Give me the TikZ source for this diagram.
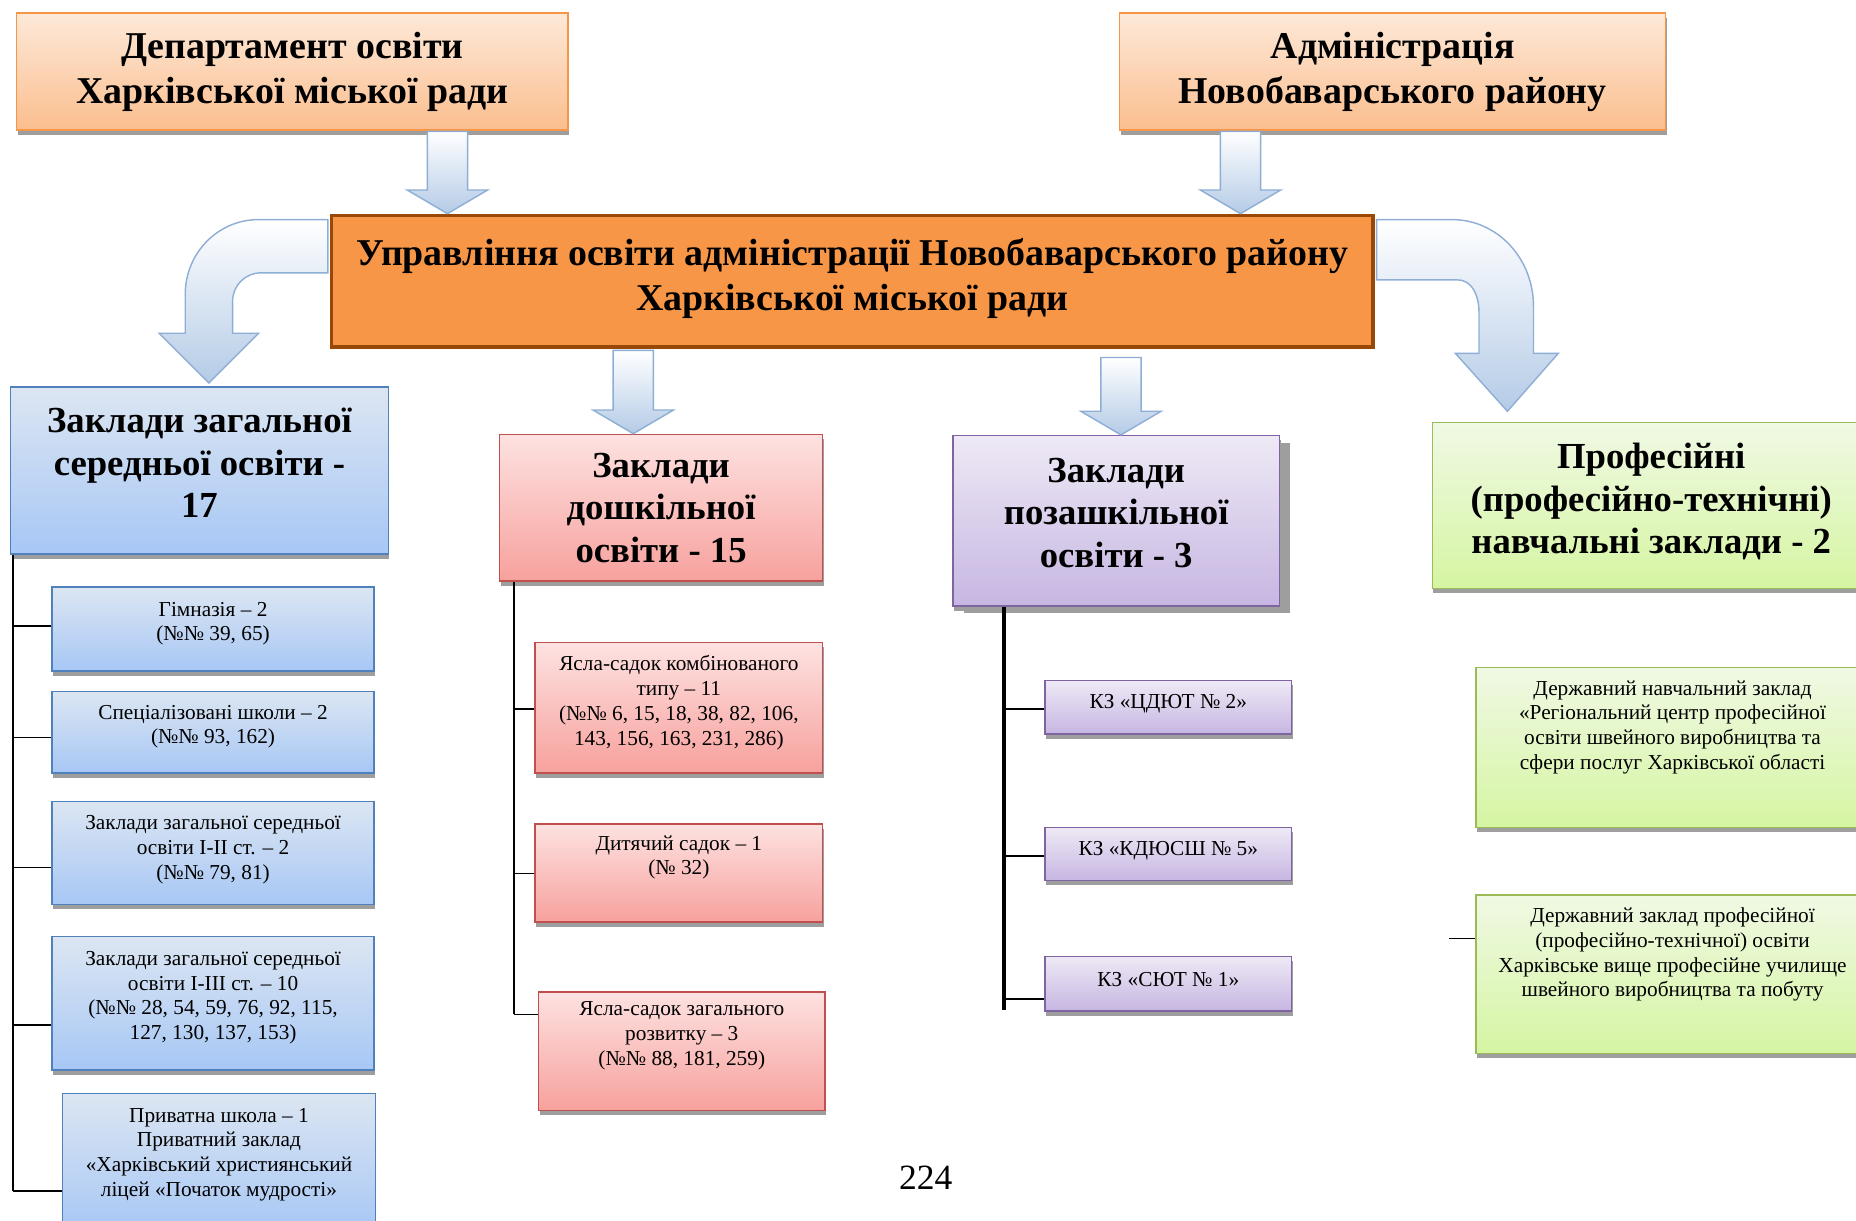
\documentclass[tikz,border=0pt]{standalone}
\usepackage{fontspec}
\setmainfont{Liberation Serif}
\usetikzlibrary{calc,shadows}

\definecolor{peachtop}{HTML}{FDE9D9}
\definecolor{peachbot}{HTML}{FBBE8E}
\definecolor{peachline}{HTML}{F79646}
\definecolor{mainfill}{HTML}{F79646}
\definecolor{mainline}{HTML}{984807}
\definecolor{bluetop}{HTML}{DCE6F2}
\definecolor{bluebot}{HTML}{A7C7F5}
\definecolor{blueline}{HTML}{4F81BD}
\definecolor{redtop}{HTML}{FDE2E1}
\definecolor{redbot}{HTML}{F7A19D}
\definecolor{redline}{HTML}{C0504D}
\definecolor{purptop}{HTML}{EEE9F5}
\definecolor{purpbot}{HTML}{C6B6E2}
\definecolor{purpline}{HTML}{8064A2}
\definecolor{greentop}{HTML}{F0F9E4}
\definecolor{greenbot}{HTML}{D5F5A2}
\definecolor{greenline}{HTML}{9BBB59}
\definecolor{arrowfill}{HTML}{B4CBE6}
\definecolor{arrowline}{HTML}{8EAED6}

\newcommand\bigtxt{\fontsize{32}{38}\selectfont\bfseries}
\newcommand\headtxt{\fontsize{31}{36}\selectfont\bfseries}
\newcommand\smalltxt{\fontsize{18}{21}\selectfont}
\newcommand\pagetxt{\fontsize{30}{34}\selectfont}

\newcommand\blockdown[2]{%
  \path[blockarr] ($(#1)+(-17,0)$) -- ($(#1)+(17,0)$) -- ($(#2)+(17,20)$)
    -- ($(#2)+(34,20)$) -- (#2) -- ($(#2)+(-34,20)$) -- ($(#2)+(-17,20)$) -- cycle;}

\begin{document}
\begin{tikzpicture}[x=1pt,y=1pt,
  every node/.style={align=center,inner sep=0pt},
  shade/.style={general shadow={fill=black!38,shadow xshift=1pt,shadow yshift=-4pt}},
  peach/.style={shade,draw=peachline,line width=1.2pt,top color=peachtop,bottom color=peachbot,font=\bigtxt},
  mainbox/.style={draw=mainline,line width=3pt,fill=mainfill,font=\bigtxt},
  bluebox/.style={shade,draw=blueline,line width=1.2pt,top color=bluetop,bottom color=bluebot,font=\smalltxt},
  redbox/.style={shade,draw=redline,line width=1.2pt,top color=redtop,bottom color=redbot,font=\smalltxt},
  purpbox/.style={shade,draw=purpline,line width=1.2pt,top color=purptop,bottom color=purpbot,font=\smalltxt},
  greenbox/.style={shade,draw=greenline,line width=1.2pt,top color=greentop,bottom color=greenbot,font=\smalltxt},
  head/.style={font=\headtxt},
  lift/.style={text depth=#1},
  blockarr/.style={draw=arrowline,line width=1.2pt,top color=white,bottom color=arrowfill},
  link/.style={draw,line width=1.4pt}]
  \clip (0,0) rectangle (1568,-1031);

  \node[peach,minimum width=466pt,minimum height=99pt] (dep) at (247,-60.5) {Департамент освіти\\Харківської міської ради};
  \node[peach,minimum width=461pt,minimum height=99pt] (adm) at (1176.5,-60.5) {Адміністрація\\Новобаварського району};
  \node[mainbox,minimum width=880pt,minimum height=111pt,lift=12pt] (upr) at (720,-237.5) {Управління освіти адміністрації Новобаварського району\\Харківської міської ради};

  \node[bluebox,head,minimum width=319pt,minimum height=141pt,lift=13pt] (zag) at (168.5,-397.5) {Заклади загальної\\середньої освіти -\\17};
  \node[redbox,head,minimum width=273pt,minimum height=124pt] (dosh) at (558.5,-429) {Заклади\\дошкільної\\освіти - 15};
  \node[purpbox,head,minimum width=276pt,minimum height=144pt,lift=14pt,general shadow={fill=black!38,shadow xshift=9pt,shadow yshift=-6pt}] (poz) at (943,-440) {Заклади\\позашкільної\\освіти - 3};
  \node[greenbox,head,minimum width=370pt,minimum height=140pt,lift=12pt] (prof) at (1395,-427) {Професійні\\(професійно-технічні)\\навчальні заклади - 2};

  \node[bluebox,minimum width=272pt,minimum height=71pt,lift=13pt] (z1) at (180,-531.5) {Гімназія – 2\\(№№ 39, 65)};
  \node[bluebox,minimum width=272pt,minimum height=69pt,lift=13pt] (z2) at (180,-618.5) {Спеціалізовані школи – 2\\(№№ 93, 162)};
  \node[bluebox,minimum width=272pt,minimum height=87pt,lift=9pt] (z3) at (180,-720.5) {Заклади загальної середньої\\освіти I-II ст. – 2\\(№№ 79, 81)};
  \node[bluebox,minimum width=272pt,minimum height=113pt,lift=13pt] (z4) at (180,-847.5) {Заклади загальної середньої\\освіти I-III ст. – 10\\(№№ 28, 54, 59, 76, 92, 115,\\127, 130, 137, 153)};
  \node[bluebox,minimum width=264pt,minimum height=116pt,lift=17pt] (z5) at (185,-982) {Приватна школа – 1\\Приватний заклад\\«Харківський християнський\\ліцей «Початок мудрості»};

  \node[redbox,minimum width=243pt,minimum height=110pt,lift=13pt] (d1) at (573.5,-598) {Ясла-садок комбінованого\\типу – 11\\(№№ 6, 15, 18, 38, 82, 106,\\143, 156, 163, 231, 286)};
  \node[redbox,minimum width=243pt,minimum height=83pt,lift=30pt] (d2) at (573.5,-737.5) {Дитячий садок – 1\\(№ 32)};
  \node[redbox,minimum width=242pt,minimum height=100pt,lift=30pt] (d3) at (576,-888) {Ясла-садок загального\\розвитку – 3\\(№№ 88, 181, 259)};

  \node[purpbox,minimum width=208pt,minimum height=45pt,lift=10pt] (p1) at (987,-597.5) {КЗ «ЦДЮТ № 2»};
  \node[purpbox,minimum width=208pt,minimum height=45pt,lift=10pt] (p2) at (987,-721.5) {КЗ «КДЮСШ № 5»};
  \node[purpbox,minimum width=208pt,minimum height=46pt,lift=7pt] (p3) at (987,-831) {КЗ «СЮТ № 1»};

  \node[greenbox,minimum width=332pt,minimum height=135pt,lift=38pt] (t1) at (1413,-631.5) {Державний навчальний заклад\\«Регіональний центр професійної\\освіти швейного виробництва та\\сфери послуг Харківської області};
  \node[greenbox,minimum width=332pt,minimum height=134pt,lift=37pt] (t2) at (1413,-823) {Державний заклад професійної\\(професійно-технічної) освіти\\Харківське вище професійне училище\\швейного виробництва та побуту};

  \node[font=\pagetxt] (pg) at (782,-995) {224};

  \coordinate (a1) at (378,-111);
  \coordinate (a2) at (1048,-111);
  \coordinate (a3) at (535,-296);
  \coordinate (a4) at (947,-302);
  \blockdown{a1}{a1 |- upr.north}
  \blockdown{a2}{a2 |- upr.north}
  \blockdown{a3}{a3 |- dosh.north}
  \blockdown{a4}{a4 |- poz.north}

  \path[blockarr] ($(upr.north west)+(-1.5,-5)$) -- ++(-58.5,0) to[out=180,in=90] ++(-62,-63)
    -- ++(0,-33) -- ++(-22,0) -- ++(42,-42) -- ++(42,42) -- ++(-22,0) -- ++(0,27)
    to[out=90,in=180] ++(24,24) -- ++(56.5,0) -- cycle;
  \path[blockarr] ($(upr.north east)+(1.5,-5)$) -- ++(63.5,0) to[out=0,in=90] ++(69,-73)
    -- ++(0,-40) -- ++(21,0) -- ++(-43,-49) -- ++(-44,49) -- ++(20,0) -- ++(0,35)
    to[out=90,in=0] ++(-18,27) -- ++(-68.5,0) -- cycle;

  \coordinate (zb1) at (11,-529);
  \coordinate (zb2) at (11,-623);
  \coordinate (zb3) at (11,-733);
  \coordinate (zb4) at (11,-866);
  \coordinate (zb5) at (11,-1006);
  \draw[link] (zag.south -| zb1) -- (zb5);
  \path[link] (zb1) edge (zb1 -| z1.west)
              (zb2) edge (zb2 -| z2.west)
              (zb3) edge (zb3 -| z3.west)
              (zb4) edge (zb4 -| z4.west)
              (zb5) edge (zb5 -| z5.west);

  \coordinate (db1) at (434,-599);
  \coordinate (db2) at (434,-738);
  \coordinate (db3) at (434,-857);
  \draw[link] (dosh.south -| db1) -- (db3);
  \path[link] (db1) edge (db1 -| d1.west)
              (db2) edge (db2 -| d2.west)
              (db3) edge (db3 -| d3.west);

  \coordinate (pb1) at (848,-599);
  \coordinate (pb2) at (848,-723);
  \coordinate (pb3) at (848,-844);
  \coordinate (pb4) at (848,-853);
  \draw[link,line width=3pt] (poz.south -| pb1) -- (pb4);
  \path[link] (pb1) edge (pb1 -| p1.west)
              (pb2) edge (pb2 -| p2.west)
              (pb3) edge (pb3 -| p3.west);

  \coordinate (tg) at (1224,-793);
  \draw[link] (tg) -- (tg -| t2.west);
\end{tikzpicture}
\end{document}
